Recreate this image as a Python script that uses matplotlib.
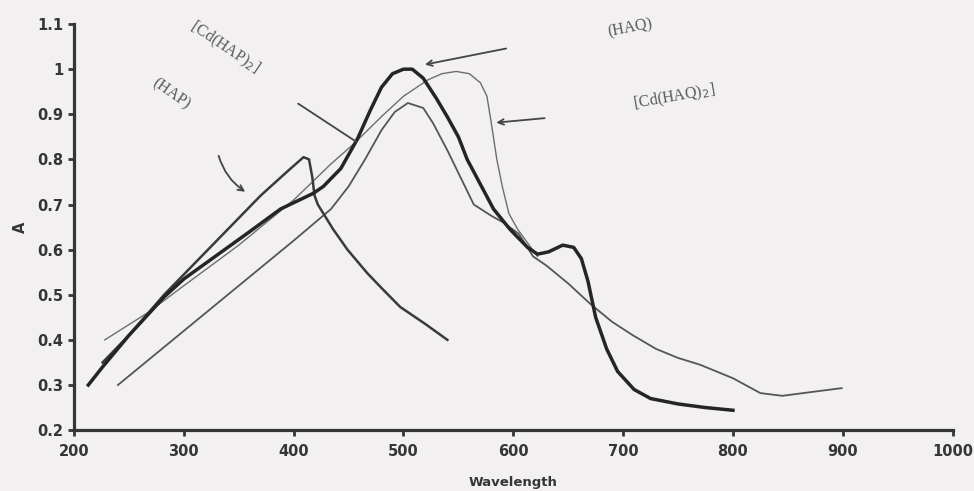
import numpy as np
import matplotlib as mpl
import matplotlib.pyplot as plt

mpl.rc('font', family=['DejaVu Sans'])

# absorbance spectra
hap_x = [226, 250, 282, 310, 340, 370, 395, 409, 414, 417, 419, 422, 436, 449, 467, 480, 497, 520, 540]
hap_y = [0.35, 0.41, 0.50, 0.57, 0.645, 0.72, 0.775, 0.805, 0.80, 0.76, 0.72, 0.70, 0.645, 0.60, 0.548, 0.515, 0.473, 0.435, 0.40]

haq_x = [213, 226, 250, 282, 300, 320, 360, 388, 418, 427, 443, 458, 470, 480, 490, 500, 508, 518, 530, 540,
         550, 558, 570, 582, 597, 613, 622, 632, 645, 655, 662, 668, 675, 685, 695, 710, 725, 750, 775, 800]
haq_y = [0.30, 0.34, 0.41, 0.495, 0.535, 0.57, 0.64, 0.69, 0.725, 0.74, 0.78, 0.845, 0.91, 0.96, 0.99, 1.0, 1.0, 0.98, 0.935, 0.894,
         0.85, 0.80, 0.745, 0.69, 0.645, 0.605, 0.59, 0.595, 0.61, 0.605, 0.58, 0.53, 0.45, 0.38, 0.33, 0.29, 0.27, 0.258, 0.25, 0.244]

cdhap_x = [240, 280, 320, 360, 400, 434, 450, 465, 480, 492, 504, 518, 527, 540, 552, 564, 580, 591, 605, 618,
           630, 650, 670, 690, 709, 730, 750, 770, 800, 825, 845, 870, 899]
cdhap_y = [0.30, 0.38, 0.46, 0.54, 0.62, 0.69, 0.74, 0.80, 0.865, 0.905, 0.925, 0.914, 0.88, 0.82, 0.76, 0.70, 0.675, 0.66, 0.635, 0.585,
           0.565, 0.525, 0.48, 0.44, 0.41, 0.38, 0.36, 0.345, 0.315, 0.282, 0.276, 0.284, 0.293]

cdhaq_x = [228, 267, 300, 350, 400, 434, 455, 480, 500, 522, 535, 548, 560, 570, 576, 580, 585, 590, 596, 604, 613, 622]
cdhaq_y = [0.40, 0.46, 0.52, 0.61, 0.71, 0.79, 0.835, 0.895, 0.94, 0.976, 0.99, 0.995, 0.99, 0.97, 0.94, 0.88, 0.80, 0.74, 0.68, 0.645, 0.615, 0.585]

xticks = [200, 300, 400, 500, 600, 700, 800, 900, 1000]
yticks = [0.2, 0.3, 0.4, 0.5, 0.6, 0.7, 0.8, 0.9, 1.0, 1.1]
ytick_labels = ['0.2', '0.3', '0.4', '0.5', '0.6', '0.7', '0.8', '0.9', '1', '1.1']

bg = '#f3f0f1'
ink = '#353535'
fig = plt.figure(figsize=(9.74, 4.91), dpi=100, facecolor=bg)
ax = fig.add_axes([0.076, 0.124, 0.902, 0.827])
ax.set_facecolor('none')

ax.plot(cdhaq_x, cdhaq_y, color='#6e6e6e', lw=1.0)
ax.plot(cdhap_x, cdhap_y, color='#555555', lw=1.3)
ax.plot(hap_x, hap_y, color='#3a3a3a', lw=1.8)
ax.plot(haq_x, haq_y, color='#252525', lw=2.5)

ax.set_xlim(200, 1000)
ax.set_ylim(0.2, 1.1)
ax.set_xticks(xticks)
ax.set_yticks(yticks)
ax.set_yticklabels(ytick_labels)
for s in ['top', 'right']:
    ax.spines[s].set_visible(False)
for s in ['left', 'bottom']:
    ax.spines[s].set_linewidth(2.3)
    ax.spines[s].set_color(ink)
ax.tick_params(width=2, length=4, color=ink, labelcolor=ink, labelsize=10.5)
ax.tick_params(axis='x', pad=6)
for lab in ax.get_xticklabels() + ax.get_yticklabels():
    lab.set_fontweight('bold')
ax.set_xlabel('Wavelength', fontsize=9.5, fontweight='bold', color=ink, labelpad=12)
ax.set_ylabel('A', fontsize=10.5, fontweight='bold', color=ink, labelpad=7)

# labels and arrows written on the scan
lab_kw = dict(family=['Liberation Serif', 'DejaVu Serif'], fontsize=11.5, color='#5a5a5a',
              ha='center', va='center')
ax.text(337, 1.049, '[Cd(HAP)$_2$]', rotation=-34, **lab_kw)
ax.text(288, 0.945, '(HAP)', rotation=-35, **lab_kw)
ax.text(706, 1.091, '(HAQ)', rotation=11, **lab_kw)
ax.text(747, 0.938, '[Cd(HAQ)$_2$]', rotation=10, **lab_kw)

arr = dict(arrowstyle='->', color='#444444', lw=1.3)
ax.annotate('', xy=(358, 0.725), xytext=(331, 0.814),
            arrowprops=dict(arr, connectionstyle='arc3,rad=0.2'))
ax.annotate('', xy=(459, 0.836), xytext=(402, 0.927),
            arrowprops=dict(arrowstyle='-', color='#444444', lw=1.3))
ax.annotate('', xy=(517, 1.009), xytext=(596, 1.047), arrowprops=arr)
ax.annotate('', xy=(582, 0.881), xytext=(631, 0.892), arrowprops=arr)

fig.savefig('out.png', dpi=100, facecolor=bg)
